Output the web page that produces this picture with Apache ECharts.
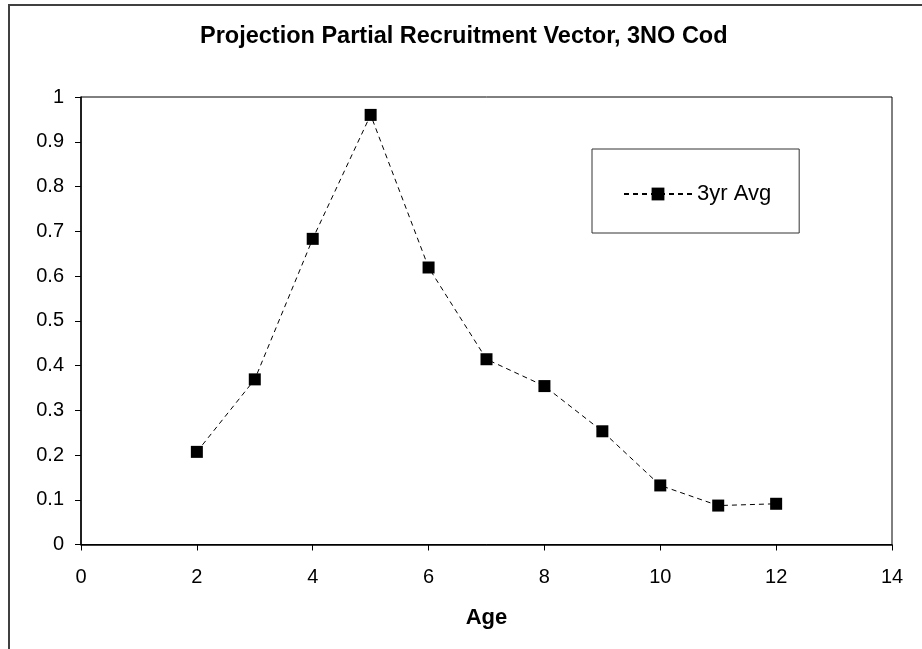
<!DOCTYPE html>
<html>
<head>
<meta charset="utf-8">
<title>Projection Partial Recruitment Vector, 3NO Cod</title>
<script src="https://cdn.jsdelivr.net/npm/echarts@6/dist/echarts.min.js"></script>
<style>
  html, body { margin: 0; padding: 0; background: #ffffff; }
  #chart { width: 922px; height: 649px; }
</style>
</head>
<body>
<div id="chart"></div>
<script>
// Partial recruitment by age (3-year average)
const ages = [2, 3, 4, 5, 6, 7, 8, 9, 10, 11, 12];
const avg3yr = [0.207, 0.369, 0.683, 0.960, 0.619, 0.414, 0.354, 0.253, 0.132, 0.087, 0.091];
const seriesName = '3yr Avg';
const chartTitle = 'Projection Partial Recruitment Vector, 3NO Cod';
const xAxisName = 'Age';

const FONT = '"Liberation Sans", Arial, Helvetica, sans-serif';

const chart = echarts.init(document.getElementById('chart'), null, { renderer: 'canvas' });

chart.setOption({
  backgroundColor: '#ffffff',
  animation: false,
  textStyle: { fontFamily: FONT, color: '#000' },
  title: {
    text: chartTitle,
    left: 200,
    top: 25,
    padding: 0,
    textStyle: { fontFamily: FONT, fontSize: 23.5, fontWeight: 'bold', color: '#000' }
  },
  legend: {
    left: 592,
    top: 149,
    orient: 'horizontal',
    padding: [34, 28, 28, 31],
    itemWidth: 68,
    itemHeight: 16,
    itemGap: 5,
    borderColor: '#333',
    borderWidth: 1,
    backgroundColor: '#fff',
    textStyle: { fontFamily: FONT, fontSize: 22, color: '#000', padding: [0, 0, 0, 0] },
    data: [seriesName]
  },
  graphic: [
    {
      type: 'polyline',
      silent: true,
      shape: { points: [[9, 649], [9, 5], [922, 5]] },
      style: { stroke: '#404040', lineWidth: 2, fill: null }
    }
  ],
  grid: {
    left: 81,
    top: 97,
    right: 30,
    bottom: 104.5,
    show: true,
    borderColor: '#000',
    borderWidth: 1,
    backgroundColor: '#fff'
  },
  xAxis: {
    type: 'value',
    min: 0,
    max: 14,
    interval: 2,
    name: xAxisName,
    nameLocation: 'middle',
    nameGap: 62,
    nameTextStyle: { fontFamily: FONT, fontSize: 22, fontWeight: 'bold', color: '#000' },
    axisLine: { show: true, onZero: false, lineStyle: { color: '#000', width: 1.5 } },
    axisTick: { show: true, inside: false, length: 6, lineStyle: { color: '#000', width: 1 } },
    axisLabel: { margin: 23, fontFamily: FONT, fontSize: 20, color: '#000' },
    splitLine: { show: false }
  },
  yAxis: {
    type: 'value',
    min: 0,
    max: 1,
    interval: 0.1,
    axisLine: { show: true, onZero: false, lineStyle: { color: '#000', width: 1.5 } },
    axisTick: { show: true, inside: false, length: 6, lineStyle: { color: '#000', width: 1 } },
    axisLabel: {
      margin: 17,
      fontFamily: FONT,
      fontSize: 20,
      color: '#000',
      formatter: function (v) { return String(Math.round(v * 10) / 10); }
    },
    splitLine: { show: false }
  },
  series: [
    {
      name: seriesName,
      type: 'line',
      data: ages.map(function (a, i) { return [a, avg3yr[i]]; }),
      symbol: 'rect',
      symbolSize: 12,
      showAllSymbol: true,
      itemStyle: { color: '#000' },
      lineStyle: { color: '#000', width: 1, type: [5, 4] },
      emphasis: { disabled: true }
    }
  ]
});
</script>
</body>
</html>
